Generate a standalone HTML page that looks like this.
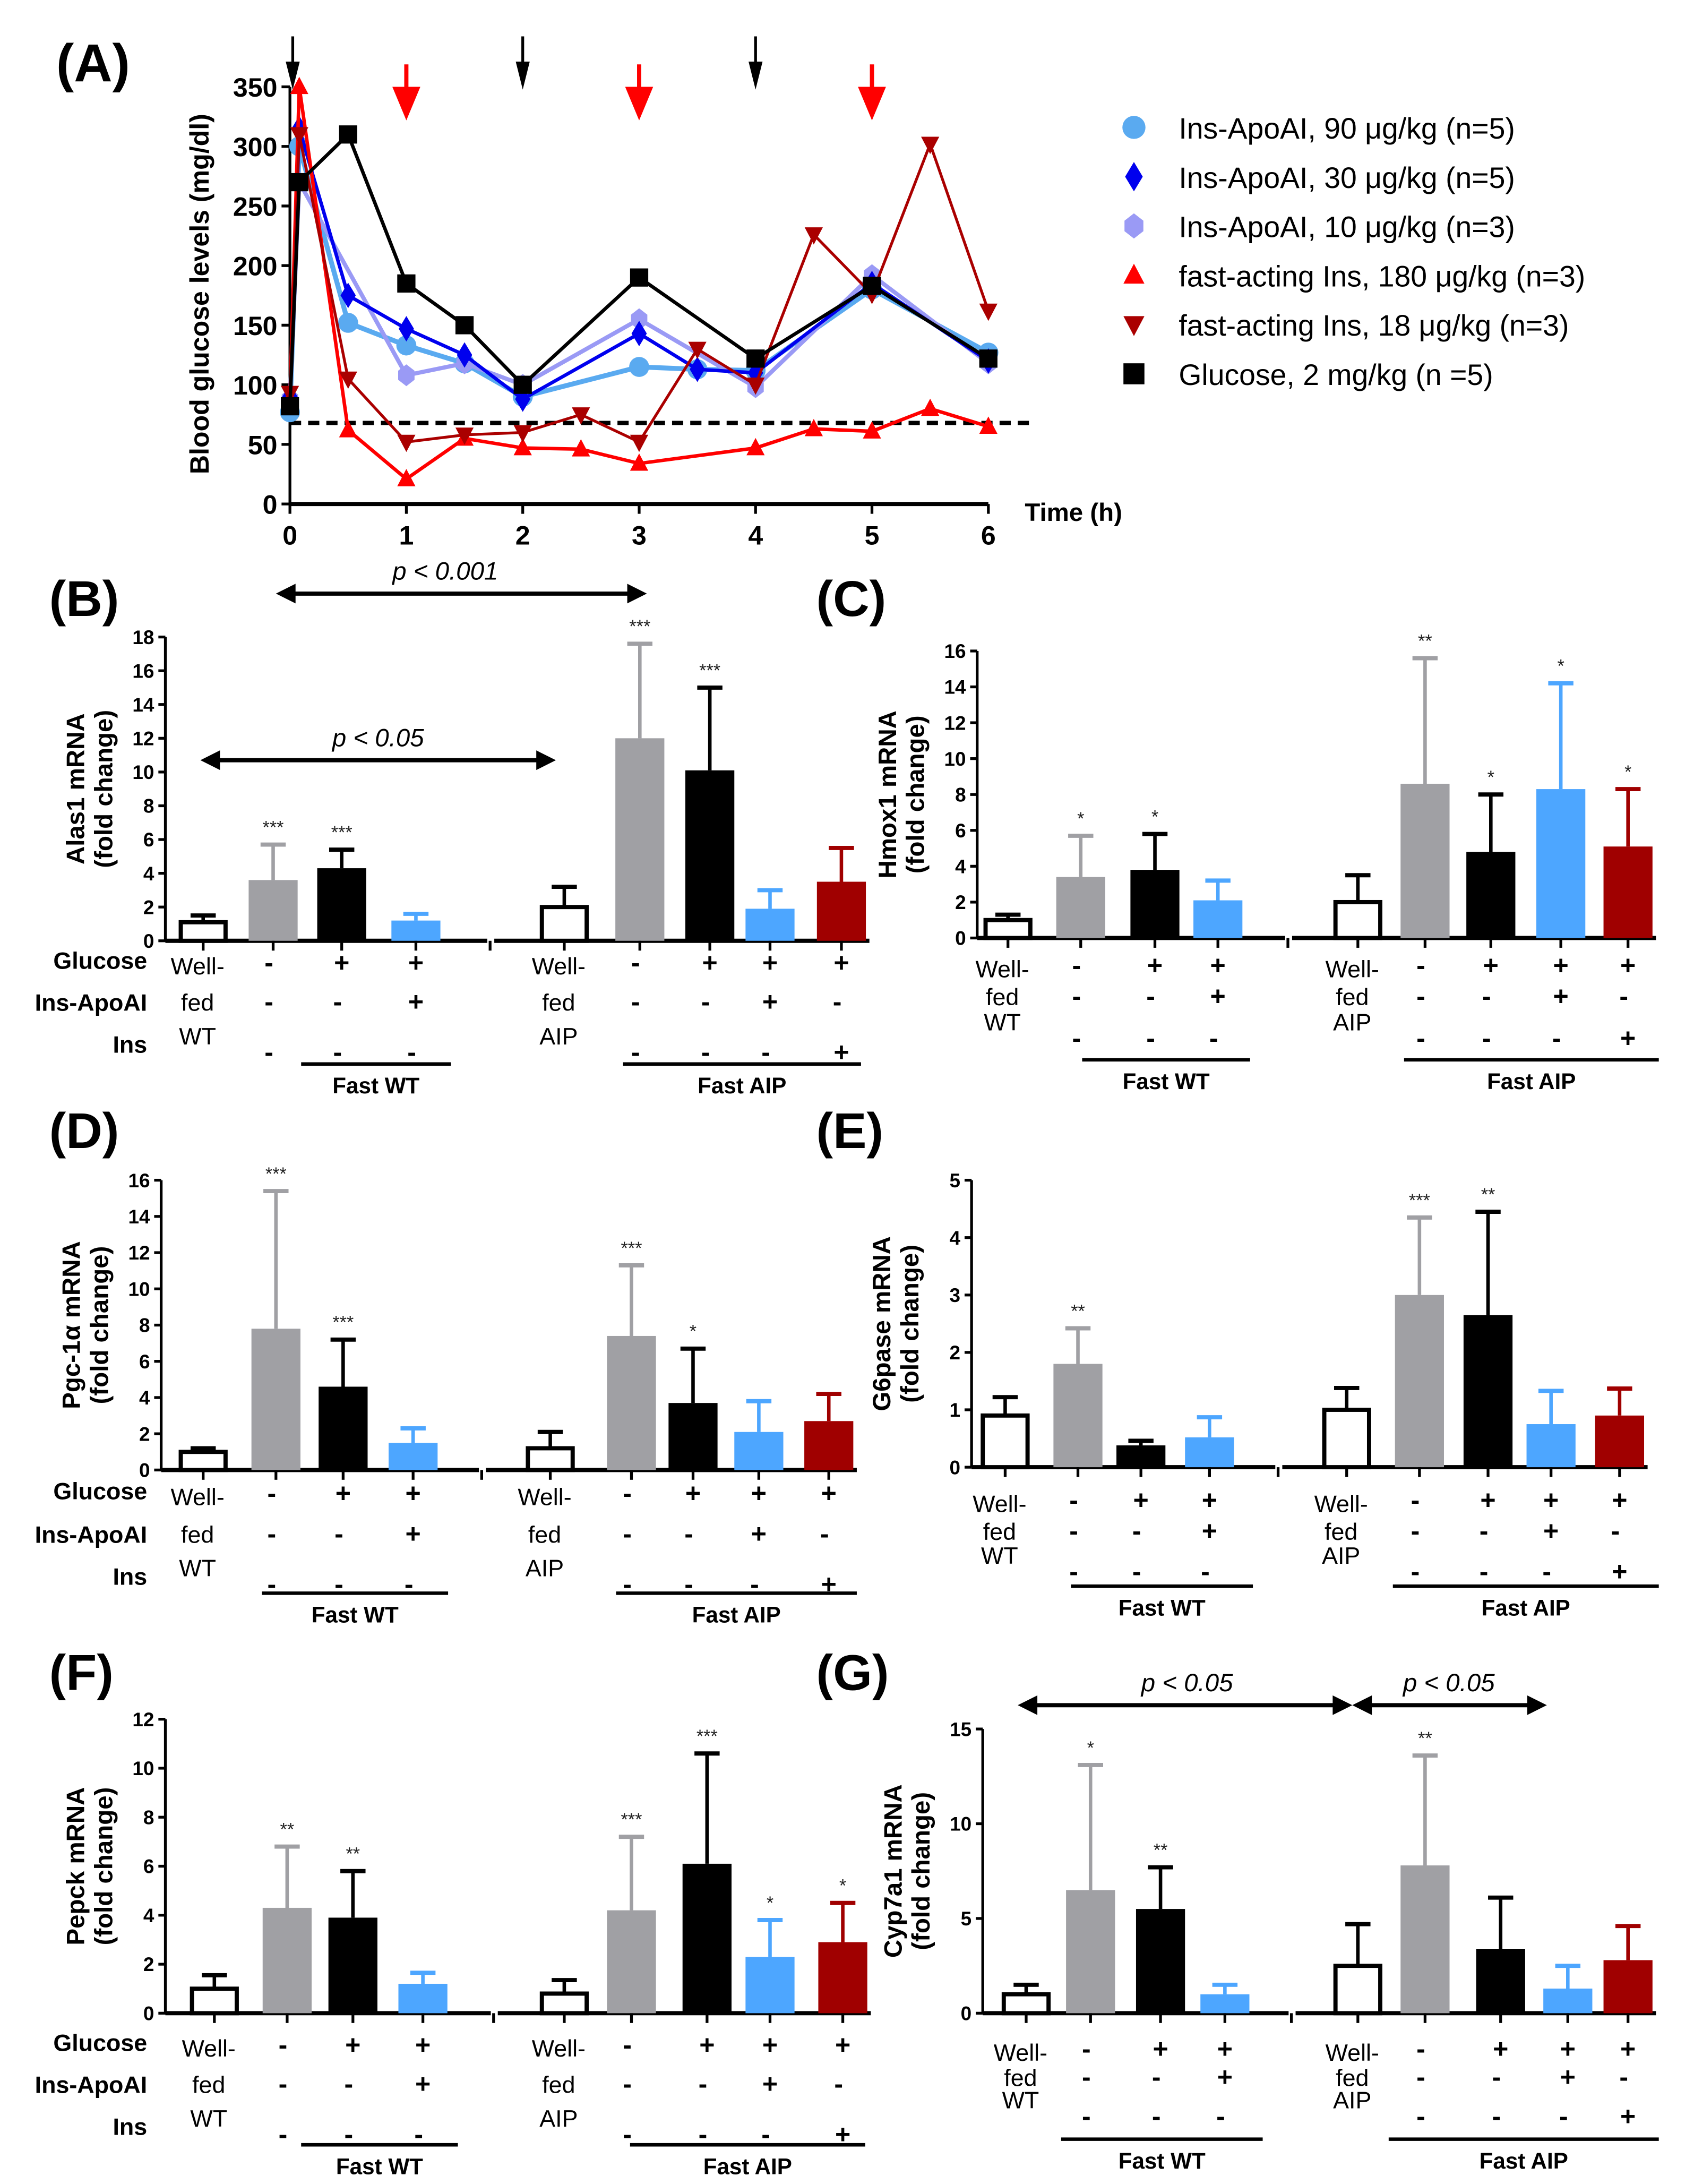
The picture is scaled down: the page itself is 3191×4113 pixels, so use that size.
<!DOCTYPE html>
<html><head><meta charset="utf-8"><style>
html,body{margin:0;padding:0;background:#fff}
svg{display:block}
text{font-family:"Liberation Sans",Arial,sans-serif}
</style></head><body>
<svg id="fig" xmlns="http://www.w3.org/2000/svg" width="3191" height="4113" viewBox="0 0 1210 1560">
<rect width="1210" height="1560" fill="#fff"/>
</svg>
<script>
// ---- Panel A data ----
const aSeriesNames = ["Ins-ApoAI, 90 \u03bcg/kg (n=5)","Ins-ApoAI, 30 \u03bcg/kg (n=5)","Ins-ApoAI, 10 \u03bcg/kg (n=3)","fast-acting Ins, 180 \u03bcg/kg (n=3)","fast-acting Ins, 18 \u03bcg/kg (n=3)","Glucose, 2 mg/kg (n =5)"];
const aT90 = [0,0.08,0.5,1,1.5,2,3,3.5,4,5,6];
const aV90 = [77,300,152,133,118,90,115,113,112,180,127];
const aT30 = [0,0.08,0.5,1,1.5,2,3,3.5,4,5,6];
const aV30 = [90,315,175,147,125,88,143,113,110,185,120];
const aT10 = [0,0.08,1,1.5,2,3,4,5,6];
const aV10 = [88,270,108,118,100,155,98,192,118];
const aT180 = [0,0.08,0.5,1,1.5,2,2.5,3,4,4.5,5,5.5,6];
const aV180 = [88,350,62,21,55,47,46,34,47,63,61,80,65];
const aT18 = [0,0.08,0.5,1,1.5,2,2.5,3,3.5,4,4.5,5,5.5,6];
const aV18 = [93,310,105,52,58,60,75,52,130,100,226,176,302,162];
const aTG = [0,0.08,0.5,1,1.5,2,3,4,5,6];
const aVG = [82,270,310,185,150,100,190,122,183,122];
const aYTicks = [0,50,100,150,200,250,300,350];
const aXTicks = [0,1,2,3,4,5,6];
const aThreshold = 68;
const aBlackArrows = [0,2,4];
const aRedArrows = [1,3,5];

// ---- Bar panels data ----
const bVals=[1.1,3.6,4.3,1.2,2.0,12.0,10.1,1.9,3.5], bErr=[0.4,2.1,1.1,0.4,1.2,5.6,4.9,1.1,2.0], bStars=["","***","***","","","***","***","",""], bTicks=[0,2,4,6,8,10,12,14,16,18];
const cVals=[1.0,3.4,3.8,2.1,2.0,8.6,4.8,8.3,5.1], cErr=[0.3,2.3,2.0,1.1,1.5,7.0,3.2,5.9,3.2], cStars=["","*","*","","","**","*","*","*"], cTicks=[0,2,4,6,8,10,12,14,16];
const dVals=[1.0,7.8,4.6,1.5,1.2,7.4,3.7,2.1,2.7], dErr=[0.2,7.6,2.6,0.8,0.9,3.9,3.0,1.7,1.5], dStars=["","***","***","","","***","*","",""], dTicks=[0,2,4,6,8,10,12,14,16];
const eVals=[0.9,1.8,0.38,0.52,1.0,3.0,2.65,0.75,0.9], eErr=[0.32,0.62,0.08,0.35,0.38,1.35,1.8,0.58,0.47], eStars=["","**","","","","***","**","",""], eTicks=[0,1,2,3,4,5];
const fVals=[1.0,4.3,3.9,1.2,0.8,4.2,6.1,2.3,2.9], fErr=[0.55,2.5,1.9,0.45,0.55,3.0,4.5,1.5,1.6], fStars=["","**","**","","","***","***","*","*"], fTicks=[0,2,4,6,8,10,12];
const gVals=[1.0,6.5,5.5,1.0,2.5,7.8,3.4,1.3,2.8], gErr=[0.5,6.6,2.2,0.5,2.2,5.8,2.7,1.2,1.8], gStars=["","*","**","","","**","","",""], gTicks=[0,5,10,15];
const glucoseSigns=["","-","+","+","","-","+","+","+"];
const apoSigns=["","-","-","+","","-","-","+","-"];
const insSigns=["","-","-","-","","-","-","-","+"];

const NS="http://www.w3.org/2000/svg";
const svg=document.getElementById('fig');
function el(tag,attrs,parent,txt){const e=document.createElementNS(NS,tag);for(const k in attrs)e.setAttribute(k,attrs[k]);if(txt!==undefined)e.textContent=txt;(parent||svg).appendChild(e);return e;}

// ---------- Panel A ----------
const gA=el('g',{});


const AX0=207,AY0=360,AYT=62,AX6=706;
const ax=t=>AX0+(AX6-AX0)*t/6;
const ay=v=>AY0-(AY0-AYT)*v/350;
let t=el('text',{x:40,y:58,'font-size':38,'font-weight':'bold'},gA,'(A)');

el('line',{x1:AX0,y1:AY0+1,x2:AX0,y2:ay(350),stroke:'#000','stroke-width':2},gA);
el('line',{x1:AX0,y1:AY0,x2:AX6,y2:AY0,stroke:'#000','stroke-width':3},gA);
aYTicks.forEach(v=>{el('line',{x1:AX0-6,y1:ay(v),x2:AX0,y2:ay(v),stroke:'#000','stroke-width':2},gA);
 const tt=el('text',{x:AX0-9,y:ay(v)+7,'font-size':19,'font-weight':'bold','text-anchor':'end'},gA,String(v));
 });
aXTicks.forEach(v=>{el('line',{x1:ax(v),y1:AY0,x2:ax(v),y2:AY0+7,stroke:'#000','stroke-width':2},gA);
 const tt=el('text',{x:ax(v),y:AY0+29,'font-size':19,'font-weight':'bold','text-anchor':'middle'},gA,String(v));
 });
t=el('text',{x:732,y:372,'font-size':18,'font-weight':'bold'},gA,'Time (h)');

t=el('text',{transform:'translate(149,210) rotate(-90)','font-size':19,'font-weight':'bold','text-anchor':'middle'},gA,'Blood glucose levels (mg/dl)');

const thr=el('line',{x1:AX0,y1:ay(aThreshold),x2:738,y2:ay(aThreshold),stroke:'#000','stroke-width':3,'stroke-dasharray':'8,5'},gA);

function arrow(x,y1,y2,col,w,hw,hl,name){const g=el('g',{},gA);
 el('line',{x1:x,y1:y1,x2:x,y2:y2-hl+2,stroke:col,'stroke-width':w},g);
 el('polygon',{points:`${x-hw},${y2-hl} ${x+hw},${y2-hl} ${x},${y2}`,fill:col},g);}
aBlackArrows.forEach(h=>arrow(ax(h)+(h===0?2:0),26,64,'#000',2,5,20,'black-dose-arrow'));
aRedArrows.forEach(h=>arrow(ax(h),46,86,'#f00',3,10,24,'red-dose-arrow'));
function marker(g,type,x,y,col,s){
 if(type==='circle')return el('circle',{cx:x,cy:y,r:s*0.55,fill:col},g);
 if(type==='diamond')return el('polygon',{points:`${x},${y-s*0.7} ${x+s*0.42},${y} ${x},${y+s*0.7} ${x-s*0.42},${y}`,fill:col},g);
 if(type==='hex')return el('polygon',{points:`${x},${y-s*0.6} ${x+s*0.45},${y-s*0.25} ${x+s*0.45},${y+s*0.25} ${x},${y+s*0.6} ${x-s*0.45},${y+s*0.25} ${x-s*0.45},${y-s*0.25}`,fill:col},g);
 if(type==='up')return el('polygon',{points:`${x},${y-s*0.55} ${x+s*0.5},${y+s*0.4} ${x-s*0.5},${y+s*0.4}`,fill:col},g);
 if(type==='down')return el('polygon',{points:`${x-s*0.5},${y-s*0.4} ${x+s*0.5},${y-s*0.4} ${x},${y+s*0.55}`,fill:col},g);
 return el('rect',{x:x-s*0.5,y:y-s*0.5,width:s,height:s,fill:col},g);}
const aSeries=[[aT90,aV90,'#5aaaf0','circle',3.5,'series-ins-apoai-90'],[aT10,aV10,'#9a9af5','hex',3,'series-ins-apoai-10'],[aT30,aV30,'#0000ee','diamond',2.5,'series-ins-apoai-30'],[aT180,aV180,'#ff0000','up',2.5,'series-fast-ins-180'],[aT18,aV18,'#aa0000','down',2,'series-fast-ins-18'],[aTG,aVG,'#000','square',2.5,'series-glucose']];
aSeries.forEach(s=>{const g=el('g',{},gA);
 el('polyline',{points:s[0].map((tt,i)=>ax(tt)+','+ay(s[1][i])).join(' '),fill:'none',stroke:s[2],'stroke-width':s[4]},g);
 s[0].forEach((tt,i)=>{const m=marker(g,s[3],ax(tt),ay(s[1][i]),s[2],13);});});
const legTypes=[['circle','#5aaaf0'],['diamond','#0000ee'],['hex','#9a9af5'],['up','#ff0000'],['down','#aa0000'],['square','#000']];
const legG=el('g',{},gA);
aSeriesNames.forEach((n,i)=>{const y=91+i*35.2;const g=el('g',{},legG);
 marker(g,legTypes[i][0],810,y,legTypes[i][1],15);
 el('text',{x:842,y:y+8,'font-size':21},g,n);});

// ---------- Bar panels ----------
function barPanel(cfg,vals,errs,stars,ticks){
 const g=el('g',{});
 const lab=el('text',{x:cfg.lx,y:cfg.ly,'font-size':36,'font-weight':'bold'},g,cfg.label);
 
 const ymax=ticks[ticks.length-1];
 const py=v=>cfg.y0-(cfg.y0-cfg.yt)*v/ymax;
 el('line',{x1:cfg.ax,y1:cfg.y0,x2:cfg.ax,y2:cfg.yt,stroke:'#000','stroke-width':2},g);
 ticks.forEach(v=>{el('line',{x1:cfg.ax-5,y1:py(v),x2:cfg.ax,y2:py(v),stroke:'#000','stroke-width':2},g);
  const tt=el('text',{x:cfg.ax-8,y:py(v)+5,'font-size':14,'font-weight':'bold','text-anchor':'end'},g,String(v));
  });
 const yt=el('text',{transform:`translate(${cfg.ax-58},${(cfg.y0+cfg.yt)/2}) rotate(-90)`,'font-size':18,'font-weight':'bold','text-anchor':'middle'},g,cfg.ytitle1);
 
 el('text',{transform:`translate(${cfg.ax-38},${(cfg.y0+cfg.yt)/2}) rotate(-90)`,'font-size':18,'font-weight':'bold','text-anchor':'middle'},g,'(fold change)');
 const c=cfg.cx;
 el('line',{x1:cfg.ax,y1:cfg.y0,x2:(c[3]+c[4])/2-2,y2:cfg.y0,stroke:'#000','stroke-width':3},g);
 el('line',{x1:(c[3]+c[4])/2+3,y1:cfg.y0,x2:c[8]+20,y2:cfg.y0,stroke:'#000','stroke-width':3},g);
 el('line',{x1:(c[3]+c[4])/2,y1:cfg.y0,x2:(c[3]+c[4])/2,y2:cfg.y0+7,stroke:'#000','stroke-width':2},g);
 const cols=["#fff","#a0a0a4","#000","#4da6ff","#fff","#a0a0a4","#000","#4da6ff","#a00000"];
 const bw=35;
 vals.forEach((v,i)=>{const x=c[i];const top=py(v);const eT=py(v+errs[i]);const col=cols[i];const ecol=col==='#fff'?'#000':col;
  const bg=el('g',{},g);
  el('line',{x1:x,y1:top,x2:x,y2:eT,stroke:ecol,'stroke-width':2.5},bg);
  el('line',{x1:x-9,y1:eT,x2:x+9,y2:eT,stroke:ecol,'stroke-width':3},bg);
  el('rect',{x:x-bw/2+(col==='#fff'?1.5:0),y:top,width:bw-(col==='#fff'?3:0),height:cfg.y0-top,fill:col,stroke:col==='#fff'?'#000':'none','stroke-width':3},bg);
  el('line',{x1:x,y1:cfg.y0,x2:x,y2:cfg.y0+7,stroke:'#000','stroke-width':2},g);
  if(stars[i]){const st=el('text',{x:x,y:eT-8,'font-size':13,'text-anchor':'middle','fill':'#222'},g,stars[i]);}
 });
 const fs=cfg.fs;
 if(cfg.rowLabels){[['Glucose',0],['Ins-ApoAI',1],['Ins',2]].forEach(r=>{const tt=el('text',{x:cfg.rlx,y:cfg.rows[r[1]]+6,'font-size':fs,'font-weight':'bold','text-anchor':'end'},g,r[0]);});}
 [[0,'WT'],[4,'AIP']].forEach(p=>{['Well-','fed',p[1]].forEach((w,k)=>{el('text',{x:c[p[0]]-4,y:cfg.rows[k]+6+(k===2?-6:0)+(k===0?4:0),'font-size':fs,'text-anchor':'middle'},g,w);});});
 [glucoseSigns,apoSigns,insSigns].forEach((arr,k)=>arr.forEach((s,i)=>{if(s)el('text',{x:c[i]+(s==='-'?-3:0),y:cfg.rows[k]+(k===0?8:6)+(k===2?6:0),'font-size':fs+2,'font-weight':'bold','text-anchor':'middle'},g,s);}));
 cfg.lines.forEach((L,k)=>{el('line',{x1:L[0],y1:cfg.ly2,x2:L[1],y2:cfg.ly2,stroke:'#000','stroke-width':2.5},g);
  const tt=el('text',{x:(L[0]+L[1])/2,y:cfg.ly2+21,'font-size':16,'font-weight':'bold','text-anchor':'middle'},g,k===0?'Fast WT':'Fast AIP');
  });
 (cfg.arrows||[]).forEach(A=>{const ag=el('g',{},g);
  el('line',{x1:A[0]+10,y1:A[2],x2:A[1]-10,y2:A[2],stroke:'#000','stroke-width':3},ag);
  el('polygon',{points:`${A[0]},${A[2]} ${A[0]+14},${A[2]-7} ${A[0]+14},${A[2]+7}`},ag);
  el('polygon',{points:`${A[1]},${A[2]} ${A[1]-14},${A[2]-7} ${A[1]-14},${A[2]+7}`},ag);
  el('text',{x:A[3],y:A[2]-10,'font-size':18,'font-style':'italic','text-anchor':'middle'},ag,A[4]);});
}
barPanel({name:'panel-b',label:'(B)',lx:35,ly:440,ax:118,y0:672,yt:455,ytitle1:'Alas1 mRNA',cx:[145,195,244,297,403,457,507,550,601],rowLabels:true,rlx:105,rows:[686,716,746],fs:17,lines:[[215,322],[445,615]],ly2:760,arrows:[[197,462,424,318,'p < 0.001'],[143,397,543,270,'p < 0.05']]},bVals,bErr,bStars,bTicks);
barPanel({name:'panel-c',label:'(C)',lx:583,ly:440,ax:698,y0:670,yt:465,ytitle1:'Hmox1 mRNA',cx:[720,772,825,870,970,1018,1065,1115,1163],rowLabels:false,rows:[688,712,736],fs:17,lines:[[773,893],[1003,1185]],ly2:757},cVals,cErr,cStars,cTicks);
barPanel({name:'panel-d',label:'(D)',lx:35,ly:820,ax:115,y0:1050,yt:843,ytitle1:'Pgc-1\u03b1 mRNA',cx:[145,197,245,295,393,451,495,542,592],rowLabels:true,rlx:105,rows:[1065,1096,1126],fs:17,lines:[[187,320],[440,612]],ly2:1138},dVals,dErr,dStars,dTicks);
barPanel({name:'panel-e',label:'(E)',lx:583,ly:820,ax:694,y0:1048,yt:843,ytitle1:'G6pase mRNA',cx:[718,770,815,864,962,1014,1063,1108,1157],rowLabels:false,rows:[1070,1094,1117],fs:17,lines:[[765,895],[995,1185]],ly2:1133},eVals,eErr,eStars,eTicks);
barPanel({name:'panel-f',label:'(F)',lx:35,ly:1207,ax:118,y0:1438,yt:1228,ytitle1:'Pepck mRNA',cx:[153,205,252,302,403,451,505,550,602],rowLabels:true,rlx:105,rows:[1459,1489,1519],fs:17,lines:[[215,327],[450,618]],ly2:1532},fVals,fErr,fStars,fTicks);
barPanel({name:'panel-g',label:'(G)',lx:583,ly:1207,ax:702,y0:1438,yt:1235,ytitle1:'Cyp7a1 mRNA',cx:[733,779,829,875,970,1018,1072,1120,1163],rowLabels:false,rows:[1462,1484,1506],fs:17,lines:[[758,902],[992,1185]],ly2:1528,arrows:[[727,966,1218,848,'p < 0.05'],[966,1105,1218,1035,'p < 0.05']]},gVals,gErr,gStars,gTicks);
</script>
</body></html>
